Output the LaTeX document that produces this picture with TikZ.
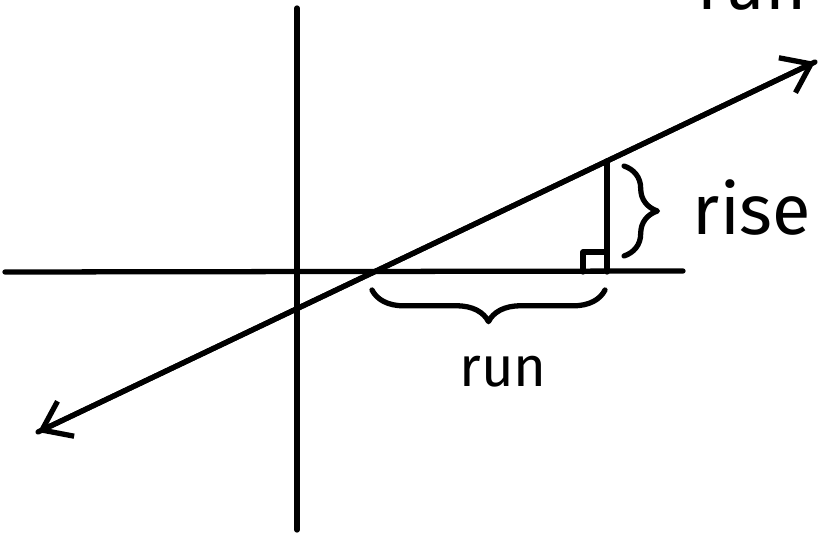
\documentclass[tikz,border=0pt]{standalone}
\usepackage{fontspec}
\setmainfont{Fira Sans}
\usetikzlibrary{arrows.meta, decorations.pathreplacing}

\tikzset{
  pen/.style={line width=3pt, line cap=round, line join=round},
  barb/.style={-{Straight Barb[length=15pt, width=22pt, line width=3pt]}},
  curly/.style={pen, decorate, decoration={brace, amplitude=#1}},
  hand/.style={font=\fontsize{#1}{#1}\selectfont},
}

\begin{document}
\begin{tikzpicture}[x=0.02cm, y=-0.02cm]

  \useasboundingbox (0,0) rectangle (823,537);

  % Axes
  \coordinate (xl) at (5,272);
  \coordinate (xr) at (683,271);
  \coordinate (yt) at (297,8);
  \coordinate (yb) at (297,530);
  \draw[pen] (xl) -- (xr);
  \draw[pen] (yt) -- (yb);

  % The line, arrows both ways
  \coordinate (lo) at (38,432);
  \coordinate (hi) at (815,62);
  \draw[pen, barb] (lo) -- (hi);
  \draw[pen, barb] (hi) -- (lo);

  % Rise segment and right angle
  \coordinate (top) at (607,161);
  \coordinate (foot) at (607,272);
  \draw[pen] (top) -- (foot);
  \draw[pen] (583,272) -- (583,252) -- (foot |- 0,252);

  % Braces
  \draw[curly=19pt] (624,166) -- (624,256);
  \draw[curly=18pt] (605,290) -- (372,290);

  % Labels
  \node[hand=40] (rise) at (752,208) {rise};
  \node[hand=32] (run) at (503,372) {run};
  \node[hand=40, anchor=base] (cut) at (752,10) {run};

\end{tikzpicture}
\end{document}
